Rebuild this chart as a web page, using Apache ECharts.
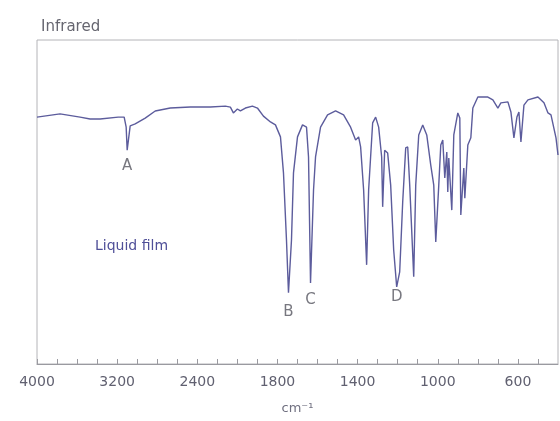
<!DOCTYPE html>
<html>
<head>
<meta charset="utf-8">
<script src="https://cdn.jsdelivr.net/npm/echarts@6/dist/echarts.min.js"></script>
<style>
  html, body { margin: 0; padding: 0; background: #fff; }
  #chart { width: 560px; height: 421px; }
</style>
</head>
<body>
<div id="chart"></div>
<script>
// wavenumbers (cm-1) and transmittance (%)
var wavenumbers = [4000,3770,3570,3470,3370,3190,3130,3110,3100,3070,3020,2920,2820,2670,2470,2270,2120,2070,2040,2000,
  1985,1960,1925,1900,1870,1835,1810,1785,1770,1755,1745,1730,1720,1700,1675,1655,1645,1635,1620,1610,
  1585,1550,1510,1470,1435,1410,1395,1385,1370,1355,1345,1325,1310,1295,1280,1275,1265,1250,1235,1220,
  1205,1190,1175,1160,1150,1140,1120,1110,1095,1075,1055,1035,1020,1010,995,985,975,965,955,950,
  945,930,920,900,890,885,870,865,850,835,825,800,750,725,700,685,650,635,620,605,
  595,585,570,550,500,470,450,435,410,400];
var transmittance = [76.2,77.2,76.2,75.6,75.6,76.2,76.2,73.1,66.0,73.5,74.1,75.9,78.1,79.0,79.3,79.3,79.6,79.3,77.5,78.7,
  78.1,79.0,79.6,79.0,76.5,74.7,73.8,70.1,59.0,38.3,22.0,38.3,59.0,70.1,73.8,73.1,63.9,25.0,53.7,63.9,
  73.1,76.9,78.1,76.9,73.1,69.1,70.1,67.0,53.7,30.6,53.7,74.4,76.2,73.1,63.9,48.5,66.0,65.1,55.2,35.2,
  23.8,28.4,50.0,66.7,67.0,55.2,26.9,55.2,70.7,73.8,70.7,61.4,55.2,37.7,55.2,67.6,69.1,57.4,65.4,53.1,
  63.6,47.5,70.7,77.5,75.9,46.0,60.5,51.2,67.6,69.8,79.0,82.4,82.4,81.5,79.0,80.6,80.9,77.8,69.8,76.2,
  77.8,68.5,79.9,81.5,82.4,80.6,77.5,76.9,69.8,64.5];

var tickLabels = ['4000','3200','2400','1800','1400','1000','600'];

var peakNames = ['A','B','C','D'];
var peakWn = [3100,1745,1635,1205];
var peakLabelT = [61,16,19.8,20.7];

// chart scale changes at 2000 cm-1 (800 per division above, 400 below)
function toU(wn){
    return wn >= 2000 ? (4000 - wn) / 800 : 2.5 + (2000 - wn) / 400;
}

var chart = echarts.init(document.getElementById('chart'));

var font = 'DejaVu Sans';

var option = {
    backgroundColor: '#fff',
    animation: false,
    textStyle: { fontFamily: font },
    title: {
        text: 'Infrared',
        left: 36,
        top: 15,
        textStyle: { fontSize: 15, fontWeight: 'normal', color: '#666670', fontFamily: font }
    },
    grid: {
        show: true,
        left: 37,
        top: 40,
        right: 2,
        bottom: 57,
        borderColor: '#b4b4b8',
        borderWidth: 1
    },
    xAxis: {
        type: 'value',
        min: 0,
        max: 6.5,
        interval: 0.25,
        name: 'cm\u207B\u00B9',
        nameLocation: 'middle',
        nameGap: 38,
        nameTextStyle: { fontSize: 13, color: '#707080', fontFamily: font },
        axisLine: { show: true, lineStyle: { color: '#9a9aa0', width: 1 } },
        axisTick: { show: true, inside: true, length: 5, lineStyle: { color: '#9a9aa0' } },
        splitLine: { show: false },
        axisLabel: {
            margin: 11,
            fontSize: 14,
            color: '#606070',
            fontFamily: font,
            showMaxLabel: false,
            formatter: function (v) {
                var r = Math.round(v);
                return Math.abs(v - r) < 1e-6 && tickLabels[r] ? tickLabels[r] : '';
            }
        }
    },
    yAxis: {
        type: 'value',
        min: 0,
        max: 100,
        show: false
    },
    graphic: [{
        type: 'text',
        left: 95,
        top: 239,
        style: { text: 'Liquid film', fontSize: 14, fill: '#4f4f98', fontFamily: font }
    }],
    series: [{
        type: 'line',
        data: wavenumbers.map(function (w, i) { return [toU(w), transmittance[i]]; }),
        symbol: 'none',
        lineStyle: { color: '#5c5c9c', width: 1.4 },
        clip: false
    }, {
        type: 'scatter',
        symbolSize: 0,
        data: peakNames.map(function (n, i) { return { name: n, value: [toU(peakWn[i]), peakLabelT[i]] }; }),
        label: {
            show: true,
            position: 'inside',
            formatter: '{b}',
            fontSize: 15,
            color: '#55555f',
            fontFamily: font
        }
    }]
};

chart.setOption(option);
</script>
</body>
</html>
